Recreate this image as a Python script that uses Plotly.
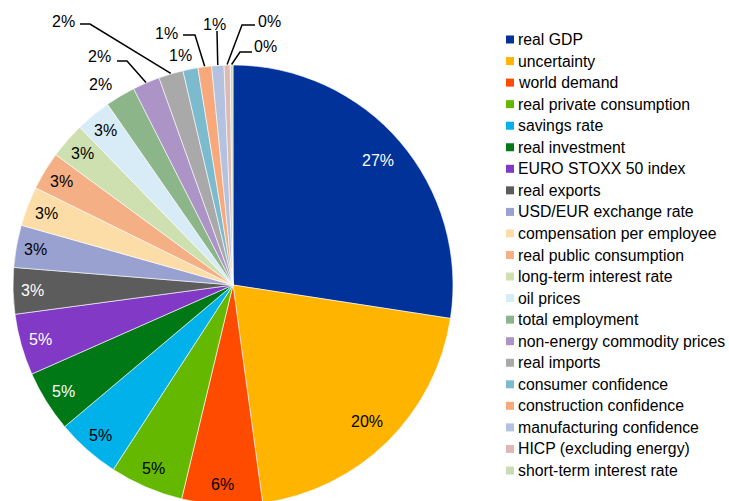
import math
import plotly.graph_objects as go

# contribution shares (%)
labels = [
    "real GDP", "uncertainty", "world demand", "real private consumption",
    "savings rate", "real investment", "EURO STOXX 50 index", "real exports",
    "USD/EUR exchange rate", "compensation per employee", "real public consumption",
    "long-term interest rate", "oil prices", "total employment",
    "non-energy commodity prices", "real imports", "consumer confidence",
    "construction confidence", "manufacturing confidence",
    "HICP (excluding energy)", "short-term interest rate",
]
values = [27.4, 20.4, 5.9, 5.4, 4.7, 4.5, 4.5, 3.4, 3.1, 2.9, 2.8,
          2.65, 2.6, 2.2, 2.0, 1.8, 1.1, 1.0, 0.9, 0.45, 0.2]
colors = [
    "#003299", "#FFB400", "#FF4B00", "#65B800", "#00B1EA", "#007816",
    "#8139C6", "#5C5C5C", "#98A1D0", "#FDDDA7", "#F5AF84", "#CFE0B0",
    "#D7ECF7", "#8CB58A", "#AD94C6", "#A9A9A9", "#7CBACD", "#F8A97B",
    "#B2C2DF", "#DDB8B5", "#C9DCB5",
]
white_text = {"real GDP", "real investment", "EURO STOXX 50 index", "real exports"}

# figure slightly taller than the window so the pie bottom is cropped like the original
W, H = 729, 505
FONT = "Liberation Sans, Arial, sans-serif"

# pie geometry in page pixels
px0, px1, py0, py1 = 13, 453, 65, 505
R = min(px1 - px0, py1 - py0) / 2
cx, cy = (px0 + px1) / 2, (py0 + py1) / 2


def px(x):
    return x / W


def py(y):
    return 1 - y / H


def pct(v):
    return f"{math.floor(v + 0.5)}%"


def edge(idx, r):
    total = sum(values)
    mid = (sum(values[:idx]) + values[idx] / 2) / total * 2 * math.pi
    return cx + r * math.sin(mid), cy - r * math.cos(mid)


fig = go.Figure(go.Pie(
    labels=labels, values=values, sort=False, direction="clockwise",
    rotation=0, textinfo="none", hoverinfo="label+percent",
    marker=dict(colors=colors, line=dict(color="white", width=0.6)),
    domain=dict(x=[px(px0), px(px1)], y=[py(py1), py(py0)]),
    showlegend=False,
))

annotations = []
shapes = []


def label(x, y, text, color="black", size=16, anchor="center"):
    annotations.append(dict(
        x=px(x), y=py(y), xref="paper", yref="paper", text=text, showarrow=False,
        xanchor=anchor, yanchor="middle",
        font=dict(family=FONT, size=size, color=color),
    ))


n_inside = 13
for i in range(n_inside):
    r = R * (0.87 if values[i] >= 10 else 0.91)
    x, y = edge(i, r)
    label(x, y, pct(values[i]), "white" if labels[i] in white_text else "black")

# outside label placement (page pixels) and leader elbows
out_pos = {13: (100, 84), 14: (99, 57), 15: (63, 21), 16: (180, 56),
           17: (166, 33), 18: (214, 24), 19: (269, 21), 20: (265, 47)}
leaders = {14: [(117, 61), (127, 61)], 15: [(80, 24), (90, 24)],
           17: [(183, 35), (195, 35)], 18: [(217, 31)],
           19: [(255, 25), (242, 25)], 20: [(252, 52), (240, 52)]}
for i, (x, y) in out_pos.items():
    label(x, y, pct(values[i]))
    if i in leaders:
        pts = leaders[i] + [edge(i, R + 0.5)]
        path = "M " + " L ".join(f"{px(a):.5f},{py(b):.5f}" for a, b in pts)
        shapes.append(dict(type="path", path=path, xref="paper", yref="paper",
                           line=dict(color="black", width=1.5)))

# legend drawn by hand to match spacing
ly0, lstep = 39.5, 21.55
for i, (lab, c) in enumerate(zip(labels, colors)):
    y = ly0 + i * lstep
    shapes.append(dict(type="rect", xref="paper", yref="paper",
                       x0=px(506), x1=px(514), y0=py(y - 4), y1=py(y + 4),
                       fillcolor=c, line=dict(width=0)))
    label(516, y, lab, size=15.8, anchor="left")

fig.update_layout(
    width=W, height=H, margin=dict(l=0, r=0, t=0, b=0),
    paper_bgcolor="white", plot_bgcolor="white",
    annotations=annotations, shapes=shapes,
)

fig.write_html(
    "out.html",
    config={"displayModeBar": False},
    post_script="document.body.style.margin='0';document.body.style.overflow='hidden';",
)
